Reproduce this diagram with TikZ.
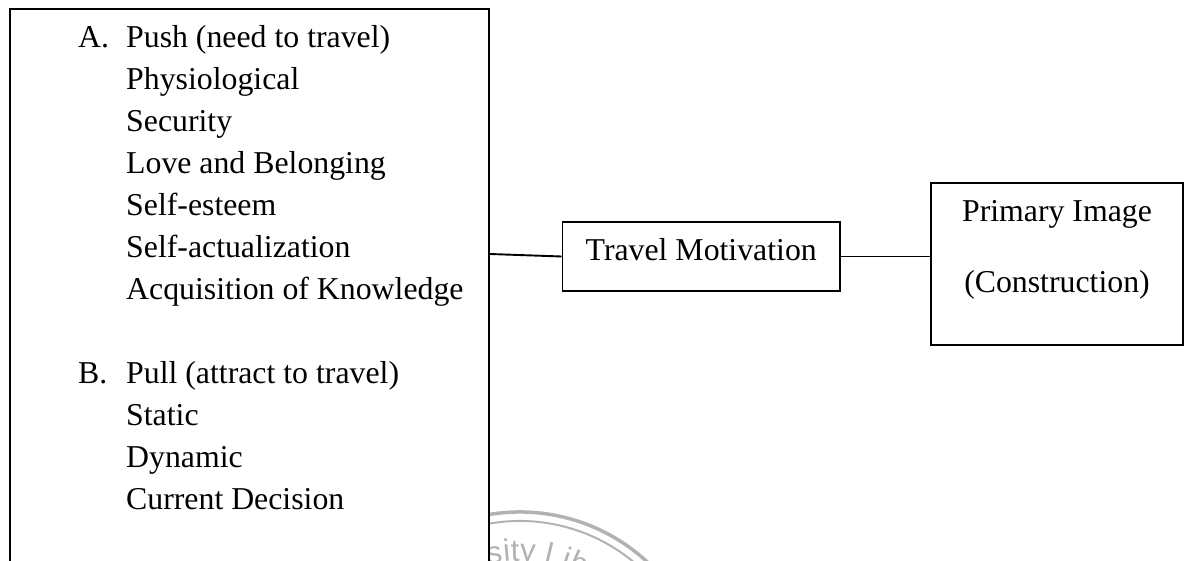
\documentclass[tikz,border=0pt]{standalone}
\usepackage{fontspec}
\setmainfont{Liberation Serif}
\newfontfamily\stampfont{Liberation Sans}
\usetikzlibrary{decorations.text}
\begin{document}
\begin{tikzpicture}[x=1pt,y=1pt,
  frame/.style={draw, line width=1.9pt, fill=white, inner sep=0pt},
  link/.style={line width=1.9pt},
  labeltext/.style={font=\fontsize{31.8}{42}\selectfont, inner sep=0pt},
  stampline/.style={draw=black!30}]
\useasboundingbox (0,0) rectangle (1184,560);
\clip (0,0) rectangle (1184,560);

% faint library stamp behind the factor box
\coordinate (stamp) at (520,-139);
\draw[stampline, line width=3.5pt] ([shift={(165:187)}]stamp) arc[start angle=165, end angle=15, radius=187];
\draw[stampline, line width=2pt] ([shift={(165:178)}]stamp) arc[start angle=165, end angle=15, radius=178];
\path[decorate, decoration={text along path,
    text={|\stampfont\fontsize{31}{31}\selectfont\color{black!30}|sity Lib}}]
  ([shift={(103:138)}]stamp) arc[start angle=103, end angle=40, radius=138];

% push / pull factors
\node[frame, anchor=north west, minimum width=479, minimum height=620] (factors) at (9,552) {};
\node[labeltext, anchor=base west] (factorlist) at (78,512) {%
  \begin{tabular}[t]{@{}p{48pt}@{}l@{}}
  A. & Push (need to travel)\\
     & Physiological\\
     & Security\\
     & Love and Belonging\\
     & Self-esteem\\
     & Self-actualization\\
     & Acquisition of Knowledge\\
     & \\
  B. & Pull (attract to travel)\\
     & Static\\
     & Dynamic\\
     & Current Decision
  \end{tabular}};

% travel motivation
\node[frame, labeltext, minimum width=277.5, minimum height=69,
      text height=22pt, text depth=14pt] (motivation) at (701.25,303.5) {Travel Motivation};

% primary image
\node[frame, minimum width=252, minimum height=162] (image) at (1057,296) {};
\node[labeltext, anchor=base] (imagetop) at ([yshift=42]image.center) {Primary Image};
\node[labeltext, anchor=base] (imagebottom) at ([yshift=-29]image.center) {(Construction)};

% connectors
\coordinate (factorsout) at ([yshift=-246]factors.north east);
\draw[link] (factorsout) -- (motivation.west);
\draw[link] (motivation.east) -- (motivation.east -| image.west);
\end{tikzpicture}
\end{document}
